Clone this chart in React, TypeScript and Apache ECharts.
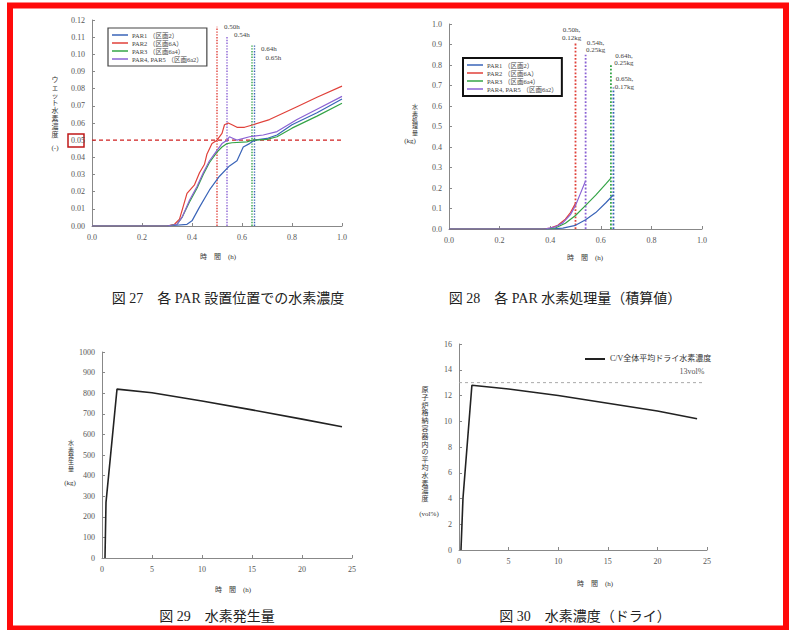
import React, { useEffect, useRef } from "react";
import * as echarts from "echarts";

const FONT = "'Liberation Serif','DejaVu Serif','Noto Sans CJK JP',serif";

// ---------- data ----------
const parNames = ["PAR1 （区画2）", "PAR2 （区画6A）", "PAR3 （区画6a4）", "PAR4, PAR5 （区画6a2）"];
const parColors = ["#3a64b8", "#e0413a", "#34a447", "#8a62d4"];

// Fig 27: wet hydrogen concentration (-) vs time (h)
const conc27Par1 = [[0, 0], [0.3, 0], [0.38, 0.001], [0.4, 0.003], [0.43, 0.011], [0.47, 0.021], [0.51, 0.029], [0.55, 0.035], [0.58, 0.038], [0.605, 0.046], [0.63, 0.048], [0.65, 0.05], [0.7, 0.051], [0.74, 0.053], [0.8, 0.059], [0.9, 0.066], [1.0, 0.074]];
const conc27Par2 = [[0, 0], [0.3, 0], [0.33, 0.001], [0.35, 0.004], [0.36, 0.009], [0.38, 0.019], [0.41, 0.024], [0.43, 0.031], [0.45, 0.036], [0.46, 0.042], [0.48, 0.048], [0.5, 0.05], [0.52, 0.054], [0.53, 0.059], [0.545, 0.06], [0.56, 0.059], [0.58, 0.0575], [0.61, 0.0575], [0.645, 0.059], [0.71, 0.062], [0.82, 0.0695], [0.9, 0.075], [1.0, 0.0815]];
const conc27Par3 = [[0, 0], [0.3, 0], [0.34, 0.001], [0.36, 0.005], [0.39, 0.014], [0.42, 0.022], [0.445, 0.03], [0.47, 0.037], [0.5, 0.043], [0.52, 0.046], [0.54, 0.048], [0.56, 0.0485], [0.62, 0.049], [0.64, 0.05], [0.7, 0.0505], [0.74, 0.052], [0.8, 0.057], [0.9, 0.064], [1.0, 0.0715]];
const conc27Par45 = [[0, 0], [0.3, 0], [0.34, 0.001], [0.36, 0.005], [0.39, 0.015], [0.42, 0.023], [0.445, 0.031], [0.47, 0.038], [0.5, 0.044], [0.52, 0.048], [0.54, 0.05], [0.55, 0.052], [0.565, 0.051], [0.58, 0.05], [0.63, 0.052], [0.685, 0.053], [0.74, 0.055], [0.82, 0.062], [0.9, 0.068], [1.0, 0.0755]];
const threshold27 = 0.05;

// Fig 28: processed hydrogen (kg) vs time (h)
const proc28Par1 = [[0, 0], [0.4, 0], [0.45, 0.004], [0.5, 0.018], [0.54, 0.045], [0.58, 0.08], [0.62, 0.128], [0.65, 0.167]];
const proc28Par2 = [[0, 0], [0.37, 0], [0.4, 0.004], [0.43, 0.018], [0.46, 0.048], [0.48, 0.08], [0.5, 0.125]];
const proc28Par3 = [[0, 0], [0.38, 0], [0.42, 0.005], [0.46, 0.028], [0.5, 0.066], [0.54, 0.115], [0.58, 0.165], [0.62, 0.22], [0.64, 0.248]];
const proc28Par45 = [[0, 0], [0.38, 0], [0.42, 0.01], [0.45, 0.03], [0.48, 0.07], [0.5, 0.115], [0.52, 0.175], [0.54, 0.235]];

// cut-off times per PAR (order: PAR2, PAR4/5, PAR3, PAR1)
const cutTimes = [0.5, 0.54, 0.64, 0.65];
const cutAmounts = [0.12, 0.25, 0.25, 0.17];
const cutColorIdx = [1, 3, 2, 0];
const cutTop27 = [0.116, 0.111, 0.106, 0.106];
const cutTop28 = [0.91, 0.85, 0.8, 0.69];

// Fig 29: hydrogen generation (kg) vs time (h)
const gen29 = [[0.3, 0], [0.4, 270], [1.5, 820], [5, 802], [10, 762], [15, 719], [20, 674], [24, 637]];

// Fig 30: dry hydrogen concentration (vol%) vs time (h)
const dry30 = [[0.2, 0], [0.4, 4], [1.3, 12.8], [5, 12.5], [10, 12.0], [15, 11.4], [20, 10.8], [24, 10.2]];
const limit30 = [[0, 13], [24.5, 13]];
const limit30Label = "13vol%";
const dry30Name = "C/V全体平均ドライ水素濃度";

// ---------- helpers ----------
const axisCommon = {
  axisLine: { lineStyle: { color: "#888", width: 1 } },
  axisTick: { inside: true, length: 3, lineStyle: { color: "#888" } },
  splitLine: { show: false },
  axisLabel: { color: "#555", fontSize: 8, fontFamily: FONT, margin: 7 },
};

function vText(str: string) {
  return Array.from(str).join("\n");
}

export default function App() {
  const ref = useRef<HTMLDivElement>(null);
  useEffect(() => {
    document.body.style.margin = "0";
    if (!ref.current) return;
    const chart = echarts.init(ref.current, undefined, { renderer: "svg" });

    const grids = [
      { left: 92, top: 20, width: 250, height: 206 },
      { left: 449, top: 24, width: 253, height: 205 },
      { left: 102, top: 352, width: 250, height: 206 },
      { left: 459, top: 344, width: 248, height: 206 },
    ];

    const plain = (v: number) => String(v);
    const xAxes = [
      { gridIndex: 0, type: "value", min: 0, max: 1, interval: 0.2, ...axisCommon, axisLabel: { ...axisCommon.axisLabel, formatter: (v: number) => v.toFixed(1) } },
      { gridIndex: 1, type: "value", min: 0, max: 1, interval: 0.2, ...axisCommon, axisLabel: { ...axisCommon.axisLabel, formatter: (v: number) => v.toFixed(1) } },
      { gridIndex: 2, type: "value", min: 0, max: 25, interval: 5, ...axisCommon, axisLabel: { ...axisCommon.axisLabel, formatter: plain } },
      { gridIndex: 3, type: "value", min: 0, max: 25, interval: 5, ...axisCommon, axisLabel: { ...axisCommon.axisLabel, formatter: plain } },
    ];
    const yAxes = [
      { gridIndex: 0, type: "value", min: 0, max: 0.12, interval: 0.01, ...axisCommon, axisLabel: { ...axisCommon.axisLabel, formatter: (v: number) => v.toFixed(2) } },
      { gridIndex: 1, type: "value", min: 0, max: 1, interval: 0.1, ...axisCommon, axisLabel: { ...axisCommon.axisLabel, formatter: (v: number) => v.toFixed(1) } },
      { gridIndex: 2, type: "value", min: 0, max: 1000, interval: 100, ...axisCommon, axisLabel: { ...axisCommon.axisLabel, formatter: plain } },
      { gridIndex: 3, type: "value", min: 0, max: 16, interval: 2, ...axisCommon, axisLabel: { ...axisCommon.axisLabel, formatter: plain } },
    ];

    const conc27 = [conc27Par1, conc27Par2, conc27Par3, conc27Par45];
    const proc28 = [proc28Par1, proc28Par2, proc28Par3, proc28Par45];

    const series: any[] = [];
    conc27.forEach((d, i) => {
      series.push({
        name: parNames[i], type: "line", xAxisIndex: 0, yAxisIndex: 0, data: d,
        symbol: "none", lineStyle: { color: parColors[i], width: 1.2 }, itemStyle: { color: parColors[i] }, z: 3,
      });
    });
    proc28.forEach((d, i) => {
      series.push({
        name: parNames[i], type: "line", xAxisIndex: 1, yAxisIndex: 1, data: d,
        symbol: "none", lineStyle: { color: parColors[i], width: 1.2 }, itemStyle: { color: parColors[i] }, z: 3,
      });
    });
    // threshold line fig 27
    series.push({
      name: "threshold27", type: "line", xAxisIndex: 0, yAxisIndex: 0,
      data: [[0, threshold27], [1, threshold27]], symbol: "none",
      lineStyle: { color: "#d02020", width: 1.3, type: [4, 3] }, z: 2,
    });
    // cut-off vertical lines
    const off27 = [[2, 0], [2, 0], [4, 5], [6, 14]];
    const off28 = [[-4, 0], [10, 0], [13, 3], [11, 4]];
    cutTimes.forEach((t, k) => {
      const c = parColors[cutColorIdx[k]];
      series.push({
        name: "cut27_" + k, type: "line", xAxisIndex: 0, yAxisIndex: 0,
        symbol: "circle", symbolSize: 0, showSymbol: true,
        lineStyle: { color: c, width: 1.4, type: "dotted" }, z: 2,
        data: [
          [t, 0],
          {
            value: [t, cutTop27[k]],
            label: {
              show: true, position: "right", offset: off27[k],
              formatter: t.toFixed(2) + "h", fontSize: 7, color: "#444", fontFamily: FONT,
            },
          },
        ],
      });
      series.push({
        name: "cut28_" + k, type: "line", xAxisIndex: 1, yAxisIndex: 1,
        symbol: "circle", symbolSize: 0, showSymbol: true,
        lineStyle: { color: c, width: 1.8, type: "dotted" }, z: 2,
        data: [
          [t, 0],
          {
            value: [t, cutTop28[k]],
            label: {
              show: true, position: "top", offset: off28[k], distance: 1,
              formatter: t.toFixed(2) + "h,\n" + cutAmounts[k].toFixed(2) + "kg",
              fontSize: 7, lineHeight: 7.5, color: "#444", fontFamily: FONT, align: "center",
            },
          },
        ],
      });
    });
    // fig 29
    series.push({
      name: "gen29", type: "line", xAxisIndex: 2, yAxisIndex: 2, data: gen29,
      symbol: "none", lineStyle: { color: "#222", width: 1.6 },
    });
    // fig 30
    series.push({
      name: dry30Name, type: "line", xAxisIndex: 3, yAxisIndex: 3, data: dry30,
      symbol: "none", lineStyle: { color: "#222", width: 1.6 }, itemStyle: { color: "#222" },
    });
    series.push({
      name: "limit30", type: "line", xAxisIndex: 3, yAxisIndex: 3,
      symbol: "circle", symbolSize: 0, showSymbol: true,
      lineStyle: { color: "#aaa", width: 1, type: [3, 3] },
      data: [
        limit30[0],
        {
          value: limit30[1],
          label: { show: true, position: "top", offset: [-10, -2], formatter: limit30Label, fontSize: 8, color: "#555", fontFamily: FONT },
        },
      ],
    });

    const legendCommon = {
      orient: "vertical", itemGap: 0, itemWidth: 16, itemHeight: 1.5, icon: "rect",
      textStyle: { fontSize: 6.5, color: "#444", fontFamily: FONT, padding: [0, 0, 0, -1], lineHeight: 8 },
      backgroundColor: "#fff", selectedMode: false,
    };

    const txt = (text: string, x: number, y: number, size: number, extra: any = {}) => ({
      type: "text", x, y, silent: true,
      style: { text, fontSize: size, fontFamily: FONT, fill: extra.fill || "#333", align: extra.align || "center", verticalAlign: extra.va || "middle", lineHeight: extra.lh || size + 1 },
    });

    const graphic: any[] = [
      // red frame
      { type: "rect", shape: { x: 10, y: 5.5, width: 776, height: 623 }, style: { fill: "none", stroke: "#ff0a0a", lineWidth: 6 }, silent: true },
      // red box around 0.05 label
      { type: "rect", shape: { x: 68, y: 134, width: 16, height: 13 }, style: { fill: "none", stroke: "#c01818", lineWidth: 1.5 }, silent: true },
      // y axis names
      txt(vText("ウェット水素濃度"), 55, 76, 7, { va: "top", lh: 7.8 }),
      txt("(-)", 55, 148, 7),
      txt(vText("水素処理量"), 415, 104, 6, { va: "top", lh: 6.4 }),
      txt("(kg)", 410, 141, 7),
      txt(vText("水素発生量"), 71, 440, 6, { va: "top", lh: 6.4 }),
      txt("(kg)", 70, 483, 7),
      txt(vText("原子炉格納容器内の平均水素濃度"), 425, 386, 7, { va: "top", lh: 7.8 }),
      txt("(vol%)", 429, 514, 7),
      // x axis names
      txt("時　間　(h)", 218, 257, 7),
      txt("時　間　(h)", 585, 258, 7),
      txt("時　間　(h)", 233, 590, 7),
      txt("時　間　(h)", 595, 584, 7),
      // figure captions
      txt("図 27　各 PAR 設置位置での水素濃度", 228, 298, 14, { fill: "#222" }),
      txt("図 28　各 PAR 水素処理量（積算値）", 565, 298, 14, { fill: "#222" }),
      txt("図 29　水素発生量", 217, 616, 14, { fill: "#222" }),
      txt("図 30　水素濃度（ドライ）", 585, 616, 14, { fill: "#222" }),
    ];

    chart.setOption({
      animation: false,
      grid: grids,
      xAxis: xAxes,
      yAxis: yAxes,
      series,
      legend: [
        { ...legendCommon, data: parNames, left: 108, top: 28, padding: [3, 4], borderColor: "#444", borderWidth: 1.2 },
        { ...legendCommon, data: parNames, left: 463, top: 58, padding: [3, 4], borderColor: "#111", borderWidth: 2 },
        { orient: "horizontal", data: [dry30Name], left: 580, top: 350, itemWidth: 20, itemHeight: 2, icon: "rect", selectedMode: false,
          textStyle: { fontSize: 8, color: "#333", fontFamily: FONT } },
      ],
      graphic,
    });
    return () => chart.dispose();
  }, []);
  return <div ref={ref} style={{ width: 791, height: 630 }} />;
}
